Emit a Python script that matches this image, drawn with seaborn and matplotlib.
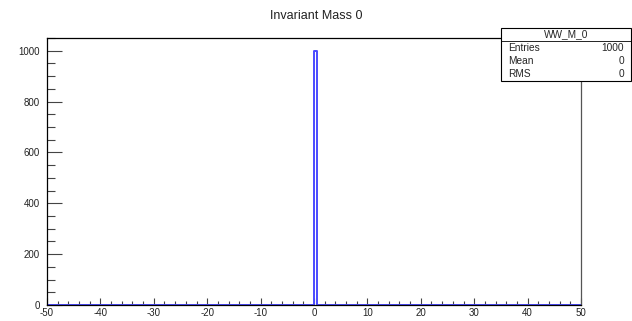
import matplotlib
matplotlib.use("Agg")
import matplotlib.pyplot as plt
import seaborn as sns
import numpy as np
from matplotlib.ticker import MultipleLocator

# Data
x_values = [0.0]
weights = [1000]
n_bins = 200
x_range = (-50, 50)
title = "Invariant Mass 0"
stats_name = "WW_M_0"
stats_labels = ["Entries", "Mean", "RMS"]
stats_values = ["1000", "0", "0"]

sns.set_style("white")
plt.rcParams['font.family'] = ['Liberation Sans', 'DejaVu Sans']
plt.rcParams['axes.unicode_minus'] = False

fig = plt.figure(figsize=(6.32, 3.21), dpi=100)
ax = fig.add_axes([47/632, 16/321, (581-47)/632, (305-38)/321])

sns.histplot(x=x_values, weights=weights, bins=n_bins, binrange=x_range,
             element="step", fill=False, color="#4a4aff", linewidth=1.4, ax=ax)

ax.set_xlim(-50, 50)
ax.set_ylim(0, 1050)
ax.set_xlabel("")
ax.set_ylabel("")
ax.xaxis.set_major_locator(MultipleLocator(10))
ax.xaxis.set_minor_locator(MultipleLocator(2))
ax.yaxis.set_major_locator(MultipleLocator(200))
ax.yaxis.set_minor_locator(MultipleLocator(50))
ax.tick_params(axis='both', which='both', direction='in', colors='#444444', labelcolor='#222222',
               labelsize=7, width=0.8, bottom=True, left=True, top=False, right=False)
ax.tick_params(axis='x', which='major', length=4.8, pad=2.5)
ax.tick_params(axis='x', which='minor', length=2.6)
ax.tick_params(axis='y', which='major', length=10.8, pad=5)
ax.tick_params(axis='y', which='minor', length=5.6)
for s in ['left', 'bottom', 'top']:
    ax.spines[s].set_color('black')
    ax.spines[s].set_linewidth(0.9)
ax.spines['right'].set_color('#555555')
ax.spines['right'].set_linewidth(0.9)

fig.text(316/632, 1 - 16/321, title, ha='center', va='center', fontsize=9, color='#222222')

# Stats box
x0, x1 = 501/632, 631/632
y_top, y_bot = 1 - 28/321, 1 - 81/321
box = plt.Rectangle((x0, y_bot), x1 - x0, y_top - y_bot, transform=fig.transFigure,
                    facecolor='white', edgecolor='black', linewidth=0.8, zorder=10)
fig.patches.append(box)
hdr = 1 - 41/321
fig.lines.append(plt.Line2D([x0, x1], [hdr, hdr], transform=fig.transFigure, color='black', linewidth=0.6, zorder=11))
fig.text((x0 + x1) / 2, 1 - 34.5/321, stats_name, ha='center', va='center', fontsize=7.3, zorder=12)
row_h = (hdr - y_bot) / 3
for i, (lab, val) in enumerate(zip(stats_labels, stats_values)):
    yy = hdr - row_h * (i + 0.5)
    fig.text(x0 + 7/632, yy, lab, ha='left', va='center', fontsize=7.3, zorder=12)
    fig.text(x1 - 7/632, yy, val, ha='right', va='center', fontsize=7.3, zorder=12)

fig.savefig("out.png", dpi=100)
